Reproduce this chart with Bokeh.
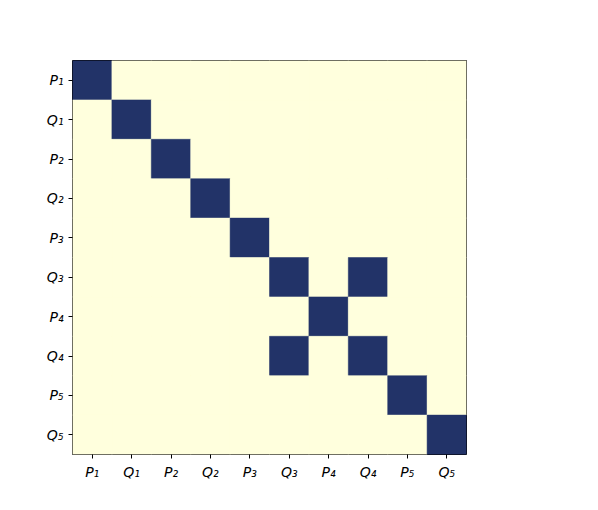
from bokeh.plotting import figure
from bokeh.models import ColumnDataSource, FactorRange
from bokeh.embed import file_html
from bokeh.resources import INLINE

labels = ["P₁", "Q₁", "P₂", "Q₂", "P₃", "Q₃", "P₄", "Q₄", "P₅", "Q₅"]
# matrix values (row = y label, col = x label)
matrix = [
    [1, 0, 0, 0, 0, 0, 0, 0, 0, 0],
    [0, 1, 0, 0, 0, 0, 0, 0, 0, 0],
    [0, 0, 1, 0, 0, 0, 0, 0, 0, 0],
    [0, 0, 0, 1, 0, 0, 0, 0, 0, 0],
    [0, 0, 0, 0, 1, 0, 0, 0, 0, 0],
    [0, 0, 0, 0, 0, 1, 0, 1, 0, 0],
    [0, 0, 0, 0, 0, 0, 1, 0, 0, 0],
    [0, 0, 0, 0, 0, 1, 0, 1, 0, 0],
    [0, 0, 0, 0, 0, 0, 0, 0, 1, 0],
    [0, 0, 0, 0, 0, 0, 0, 0, 0, 1],
]
low_color = "#ffffdd"
high_color = "#223368"

xs, ys, colors = [], [], []
for i, row in enumerate(matrix):
    for j, v in enumerate(row):
        xs.append(labels[j])
        ys.append(labels[i])
        colors.append(high_color if v else low_color)

src = ColumnDataSource(dict(x=xs, y=ys, c=colors))

p = figure(width=568, height=498, output_backend="svg", toolbar_location=None,
           x_range=FactorRange(*labels, range_padding=0),
           y_range=FactorRange(*list(reversed(labels)), range_padding=0),
           min_border_left=72, min_border_top=60, min_border_right=102, min_border_bottom=44)
p.rect(x="x", y="y", width=1, height=1, fill_color="c", line_color="c", line_width=0.5, source=src)

p.grid.visible = False
p.outline_line_color = "black"
p.outline_line_width = 1
p.background_fill_color = low_color
for ax in (p.xaxis, p.yaxis):
    ax.axis_line_color = None
    ax.major_tick_out = 4
    ax.major_tick_in = 0
    ax.minor_tick_line_color = None
    ax.major_label_text_font = "DejaVu Sans"
    ax.major_label_text_font_style = "italic"
    ax.major_label_text_font_size = "14px"
    ax.major_label_text_color = "black"
    ax.major_tick_line_color = "black"
p.xaxis.major_label_standoff = 5
p.yaxis.major_label_standoff = 5

open("out.html", "w").write(file_html(p, INLINE))
